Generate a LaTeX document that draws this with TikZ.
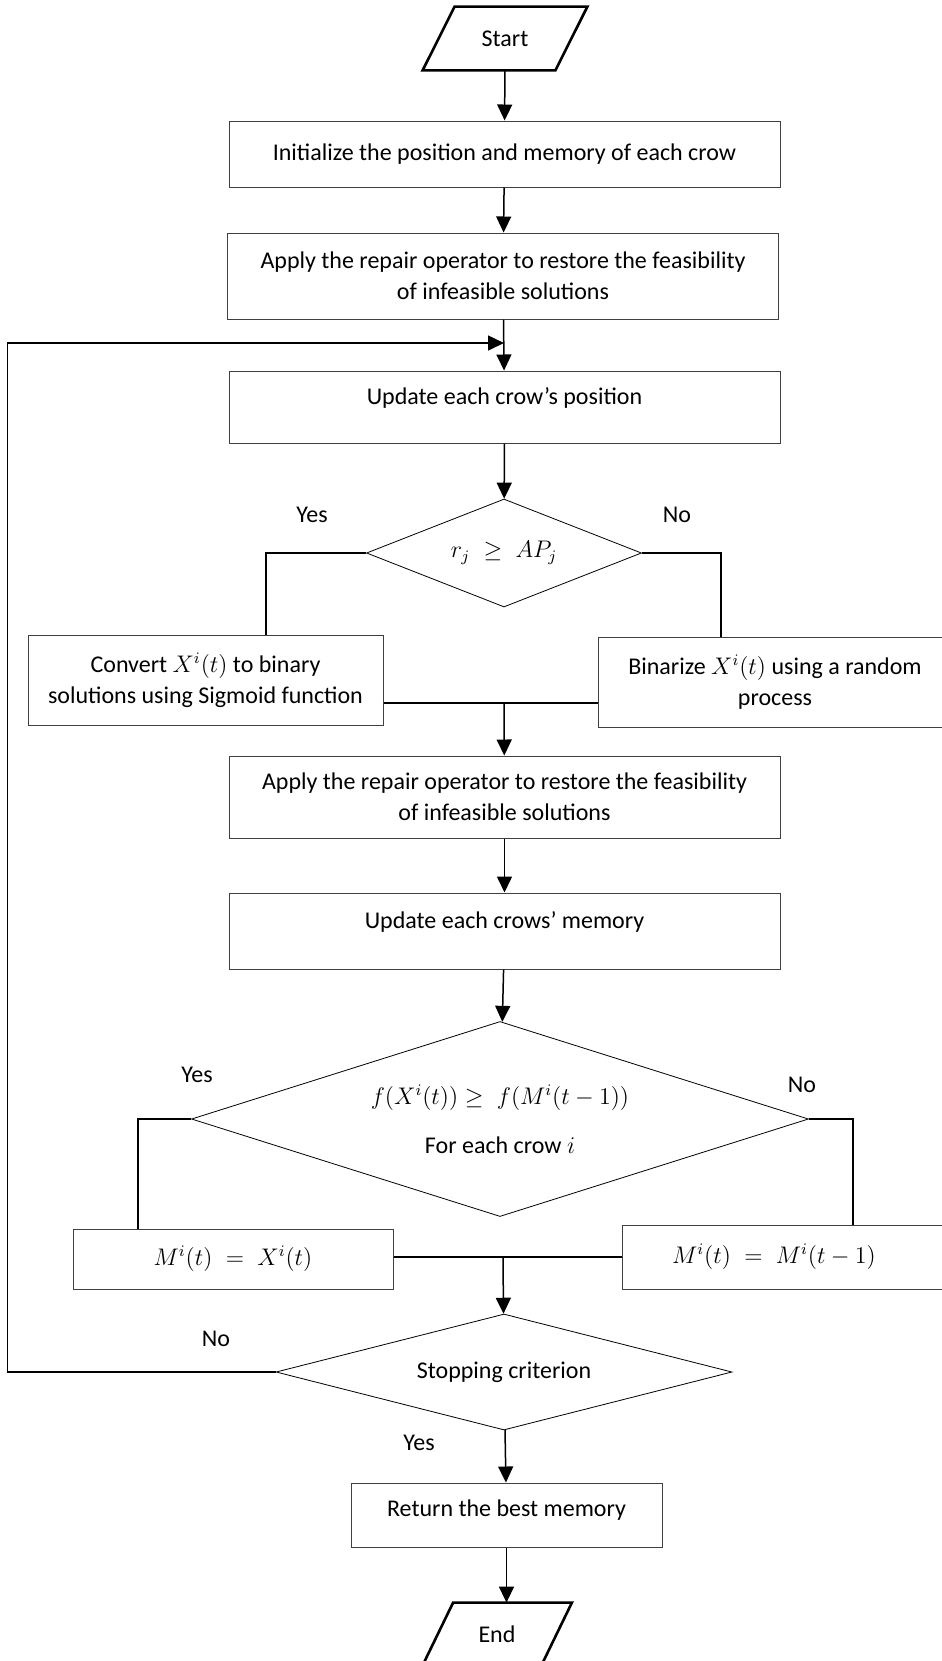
\documentclass[tikz,border=0pt]{standalone}
\usepackage{fontspec}
\setmainfont{Carlito}
\usetikzlibrary{positioning, calc, shapes.geometric, arrows.meta}

\newcommand{\liftup}[2]{\raisebox{#1}[\height][\depth]{#2}}

\begin{document}
\begin{tikzpicture}[
    x=0.5pt, y=-0.5pt,
    every node/.style={font=\fontsize{12}{15.5}\selectfont},
    process/.style={
        rectangle,
        draw=black!75,
        line width=0.5pt,
        minimum width=275.5pt,
        inner sep=0pt,
        align=center
    },
    decision/.style={
        diamond,
        draw,
        line width=0.4pt,
        inner sep=0pt,
        align=center
    },
    terminal/.style={
        rectangle,
        minimum width=82pt,
        minimum height=31.5pt,
        inner sep=0pt
    },
    parallel/.style={
        line width=1.3pt,
        line join=miter
    },
    arrow/.style={
        ->,
        >={Triangle[length=8pt, width=7.5pt]},
        line width=0.75pt
    },
    link/.style={
        line width=0.8pt
    }
]

\useasboundingbox (0,0) rectangle (942,1661);

% Blocs
\node[terminal] (start) at (505,38.5) {Start};
\draw[parallel] (start.south west) -- ($(start.north west)+(32,0)$) -- (start.north east) -- ($(start.south east)+(-32,0)$) -- cycle;

\node[process, minimum height=33pt] (init) at (504.5,154) {Initialize the position and memory of each crow};
\node[process, minimum height=43pt] (repair) at (503,276) {Apply the repair operator to restore the feasibility\\of infeasible solutions};
\node[process, minimum height=36pt] (update) at (504.5,407) {\liftup{4.5pt}{Update each crow’s position}};

\node[decision, minimum width=137.5pt, minimum height=54pt, aspect=2.55] (check) at (504,553) {$r_j \;\geq\; AP_j$};

\node[process, minimum width=177.5pt, minimum height=45pt] (sigmoid) at (205.5,680) {Convert $X^i(t)$ to binary\\solutions using Sigmoid function};
\node[process, minimum width=177pt, minimum height=45pt] (random) at (775,682) {Binarize $X^i(t)$ using a random\\process};
\coordinate (join1) at (504,703);

\node[process, minimum height=41pt] (repairb) at (504.5,797) {Apply the repair operator to restore the feasibility\\of infeasible solutions};
\node[process, minimum height=38pt] (memory) at (504.5,931) {\liftup{4.5pt}{Update each crows’ memory}};

\node[decision, minimum width=308.5pt, minimum height=97.5pt, aspect=3.16] (fitness) at (500,1119) {$f(X^i(t)) \geq\; f(M^i(t-1))$\\[9pt]For each crow $i$};

\node[process, minimum width=160pt, minimum height=30pt] (keepnew) at (233,1259) {$M^i(t) \;=\; X^i(t)$};
\node[process, minimum width=164pt, minimum height=32pt] (keepold) at (786,1257) {$M^i(t) \;=\; M^i(t-1)$\hspace{12pt}};
\coordinate (join2) at (503,1257);

\node[decision, minimum width=228pt, minimum height=58pt, aspect=3.93] (stop) at (504,1372) {Stopping criterion};
\node[process, minimum width=155.5pt, minimum height=32pt] (best) at (506.5,1515) {\liftup{2.5pt}{Return the best memory}};

\node[terminal, minimum width=74.5pt] (finish) at (497,1634.5) {End};
\draw[parallel] (finish.south west) -- ($(finish.north west)+(31,0)$) -- (finish.north east) -- ($(finish.south east)+(-31,0)$) -- cycle;

% Etiquettes
\node (yes1) at (312,515) {Yes};
\node (no1) at (677,515) {No};
\node (yes2) at (197,1075) {Yes};
\node (no2) at (802,1085) {No};
\node (no3) at (216,1339) {No};
\node (yes3) at (419,1443) {Yes};

% Fleches
\coordinate (loopin) at (504,343);
\draw[arrow] (start) -- (init);
\draw[arrow] (init) -- (repair);
\draw[arrow] (repair) -- (update);
\draw[arrow] (update) -- (check);

\draw[link] (check.west) -| ($(sigmoid.north)+(60.5,0)$);
\draw[link] (check.east) -| ($(random.north)+(-54,0)$);
\draw[link] ($(sigmoid.east)+(0,23)$) -- ($(random.west)+(0,21)$);
\draw[arrow] (join1) -- (repairb);

\draw[arrow] (repairb) -- (memory);
\draw[arrow] (memory) -- (fitness);

\draw[link] (fitness.west) -| ($(keepnew.north)+(-95,0)$);
\draw[link] (fitness.east) -| ($(keepold.north)+(67,0)$);
\draw[link] ($(keepnew.east)+(0,-2)$) -- (keepold.west);
\draw[arrow] (join2) -- (stop);

\draw[arrow] (stop) -- (best);
\draw[arrow] (best.south) -- (best.south |- finish.north);
\draw[arrow] (stop.west) -- ++(-268,0) |- (loopin);

\end{tikzpicture}
\end{document}
